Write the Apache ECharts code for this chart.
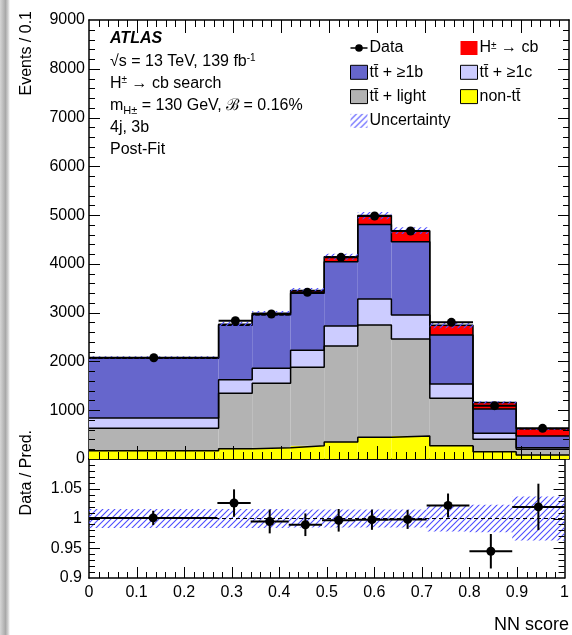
<!DOCTYPE html>
<html>
<head>
<meta charset="utf-8">
<script src="https://cdn.jsdelivr.net/npm/echarts@6/dist/echarts.min.js"></script>
<style>
  html, body { margin: 0; padding: 0; background: #fff; }
  #chart { width: 572px; height: 635px; }
</style>
</head>
<body>
<div id="chart"></div>
<script>
// bin edges in NN score
const edges = [0, 0.27, 0.34, 0.42, 0.49, 0.56, 0.63, 0.71, 0.8, 0.89, 1.0];
// Events / 0.1, per component (stack order bottom -> top)
const nonTT   = [170, 212, 232, 273, 348, 445, 471, 273, 150, 82];
const ttLight = [459, 1135, 1320, 1607, 1968, 2300, 1989, 971, 254, 117];
const ttC     = [211, 279, 307, 348, 410, 535, 492, 293, 123, 33];
const ttB     = [1224, 1114, 1093, 1168, 1319, 1525, 1503, 1005, 498, 239];
const signal  = [10, 25, 35, 57, 101, 186, 226, 200, 132, 149];
const dataEvents = [2075, 2835, 2972, 3417, 4134, 4981, 4674, 2802, 1093, 629];
// ratio panel
const ratioVal = [1.001, 1.026, 0.995, 0.9895, 0.997, 0.998, 0.9985, 1.022, 0.945, 1.0195];
const ratioErr = [0.012, 0.023, 0.02, 0.019, 0.019, 0.017, 0.016, 0.02, 0.029, 0.039];
const systUnc  = [0.016, 0.016, 0.016, 0.015, 0.015, 0.015, 0.015, 0.022, 0.023, 0.037];

const FONT = '"Liberation Sans", Arial, Helvetica, sans-serif';
const nBins = edges.length - 1;

const components = [
  {name: 'non-tt\u0304', values: nonTT, color: '#ffff00'},
  {name: 'tt\u0304 + light', values: ttLight, color: '#b3b3b3'},
  {name: 'tt\u0304 + \u22651c', values: ttC, color: '#ccccff'},
  {name: 'tt\u0304 + \u22651b', values: ttB, color: '#6666cc'},
  {name: 'H\u00b1 \u2192 cb', values: signal, color: '#ff0000'}
];

// hatch pattern for the uncertainty band
function hatchCanvas() {
  const c = document.createElement('canvas');
  c.width = 6; c.height = 6;
  const g = c.getContext('2d');
  g.strokeStyle = '#4d4dff';
  g.lineWidth = 1.1;
  g.beginPath();
  g.moveTo(0, 6); g.lineTo(6, 0);
  g.moveTo(-1, 1); g.lineTo(1, -1);
  g.moveTo(5, 7); g.lineTo(7, 5);
  g.stroke();
  return c;
}
const hatch = {image: hatchCanvas(), repeat: 'repeat'};

function rectItem(api, fill) {
  const p0 = api.coord([api.value(0), api.value(3)]);
  const p1 = api.coord([api.value(1), api.value(2)]);
  return {
    type: 'rect',
    shape: {x: p0[0], y: p0[1], width: p1[0] - p0[0], height: p1[1] - p0[1]},
    style: {fill: fill}
  };
}

function pointItem(api) {
  const c = api.coord([api.value(0), api.value(1)]);
  const l = api.coord([api.value(2), api.value(1)]);
  const r = api.coord([api.value(3), api.value(1)]);
  const lo = api.coord([api.value(0), api.value(4)]);
  const hi = api.coord([api.value(0), api.value(5)]);
  return {
    type: 'group',
    children: [
      {type: 'line', shape: {x1: l[0], y1: c[1], x2: r[0], y2: c[1]}, style: {stroke: '#000', lineWidth: 2}},
      {type: 'line', shape: {x1: c[0], y1: lo[1], x2: c[0], y2: hi[1]}, style: {stroke: '#000', lineWidth: 2}},
      {type: 'circle', shape: {cx: c[0], cy: c[1], r: 4.5}, style: {fill: '#000'}}
    ]
  };
}

const series = [];
const cum = new Array(nBins).fill(0);
const tops = [];
components.forEach(comp => {
  const rows = [];
  for (let i = 0; i < nBins; i++) {
    rows.push([edges[i], edges[i + 1], cum[i], cum[i] + comp.values[i]]);
    cum[i] += comp.values[i];
  }
  tops.push(cum.slice());
  series.push({
    type: 'custom', name: comp.name, xAxisIndex: 0, yAxisIndex: 0,
    itemStyle: {color: comp.color},
    encode: {x: [0, 1], y: [2, 3]},
    data: rows,
    renderItem: (params, api) => rectItem(api, comp.color),
    z: 2
  });
});

// black step outlines on top of each component
tops.forEach(top => {
  const pts = edges.map((e, i) => [e, top[Math.min(i, nBins - 1)]]);
  series.push({
    type: 'line', step: 'end', xAxisIndex: 0, yAxisIndex: 0, data: pts,
    showSymbol: false, silent: true, z: 3,
    lineStyle: {color: '#000', width: 1.5}
  });
});

const total = cum;

// uncertainty band (top + ratio)
series.push({
  type: 'custom', name: 'Uncertainty', xAxisIndex: 0, yAxisIndex: 0,
  itemStyle: {color: hatch},
  encode: {x: [0, 1], y: [2, 3]},
  data: total.map((t, i) => [edges[i], edges[i + 1], t * (1 - systUnc[i]), t * (1 + systUnc[i])]),
  renderItem: (params, api) => rectItem(api, hatch),
  z: 4
});
series.push({
  type: 'custom', name: 'Uncertainty', xAxisIndex: 2, yAxisIndex: 2,
  itemStyle: {color: hatch},
  encode: {x: [0, 1], y: [2, 3]},
  data: systUnc.map((u, i) => [edges[i], edges[i + 1], 1 - u, 1 + u]),
  renderItem: (params, api) => rectItem(api, hatch),
  z: 4
});

// dashed reference line at 1
series.push({
  type: 'line', xAxisIndex: 2, yAxisIndex: 2, data: [[0, 1], [1, 1]],
  showSymbol: false, silent: true, z: 5,
  lineStyle: {color: '#000', width: 1, type: [4, 3]}
});

// data points
series.push({
  type: 'custom', name: 'Data', xAxisIndex: 0, yAxisIndex: 0,
  itemStyle: {color: '#000'},
  encode: {x: 0, y: 1},
  data: dataEvents.map((d, i) => [(edges[i] + edges[i + 1]) / 2, d, edges[i], edges[i + 1], d, d]),
  renderItem: (params, api) => pointItem(api),
  z: 10
});
series.push({
  type: 'custom', name: 'Data', xAxisIndex: 2, yAxisIndex: 2,
  itemStyle: {color: '#000'},
  encode: {x: 0, y: 1},
  data: ratioVal.map((r, i) => [(edges[i] + edges[i + 1]) / 2, r, edges[i], edges[i + 1], r - ratioErr[i], r + ratioErr[i]]),
  renderItem: (params, api) => pointItem(api),
  z: 10
});

const axisLine = {show: true, onZero: false, lineStyle: {color: '#000', width: 1.5}};
const label = {color: '#000', fontFamily: FONT, fontSize: 16, formatter: v => String(v)};

function xAx(grid, pos, showLabel) {
  return {
    type: 'value', gridIndex: grid, position: pos, min: 0, max: 1, interval: 0.1,
    axisLine: axisLine,
    axisTick: {show: false},
    axisLabel: Object.assign({show: showLabel, margin: 7}, label),
    splitLine: {show: false}
  };
}
function yAx(grid, pos, showLabel, min, max, interval, margin) {
  return {
    type: 'value', gridIndex: grid, position: pos, min: min, max: max, interval: interval,
    axisLine: axisLine,
    axisTick: {show: false},
    axisLabel: Object.assign({show: showLabel, margin: margin, showMaxLabel: grid === 0}, label),
    splitLine: {show: false}
  };
}

const legendBase = {
  orient: 'vertical', itemWidth: 17, itemHeight: 14, itemGap: 8.3,
  selectedMode: false,
  textStyle: {color: '#000', fontFamily: FONT, fontSize: 16, lineHeight: 14, padding: [0, 0, 0, -3],
    rich: {sup: {fontSize: 10, verticalAlign: 'top', lineHeight: 14}}},
  formatter: n => n === 'H\u00b1 \u2192 cb' ? 'H{sup|\u00b1} \u2192 cb' : n
};
const boxed = {borderColor: '#000', borderWidth: 1};

const txt = (y, text, extra) => ({
  type: 'text', x: 110, y: y,
  style: Object.assign({
    text: text, fill: '#000', fontFamily: FONT, fontSize: 16, verticalAlign: 'middle', align: 'left',
    rich: {
      sup: {fontSize: 10, verticalAlign: 'top', lineHeight: 18, fontFamily: FONT},
      sub: {fontSize: 11, verticalAlign: 'bottom', lineHeight: 20, fontFamily: FONT}
    }
  }, extra || {})
});

const baseGraphic = [
  {type: 'rect', x: 0, y: 0, shape: {width: 10, height: 635}, silent: true,
    style: {fill: new echarts.graphic.LinearGradient(0, 0, 1, 0, [
      {offset: 0, color: '#d6d6d6'}, {offset: 0.55, color: '#a9a9a9'},
      {offset: 0.8, color: '#d0d0d0'}, {offset: 1, color: '#ffffff'}])}},
  txt(39, 'ATLAS', {fontWeight: 'bold', fontStyle: 'italic'}),
  txt(62, '\u221as = 13 TeV, 139 fb{sup|-1}'),
  txt(84, 'H{sup|\u00b1} \u2192 cb search'),
  txt(106, 'm{sub|H\u00b1} = 130 GeV, \u212c = 0.16%'),
  txt(128, '4j, 3b'),
  txt(150, 'Post-Fit'),
  {type: 'text', x: 27, y: 11, rotation: Math.PI / 2,
    style: {text: 'Events / 0.1', fill: '#000', fontFamily: FONT, fontSize: 16, align: 'right', verticalAlign: 'middle'}},
  {type: 'text', x: 27, y: 430, rotation: Math.PI / 2,
    style: {text: 'Data / Pred.', fill: '#000', fontFamily: FONT, fontSize: 16, align: 'right', verticalAlign: 'middle'}},
  {type: 'text', x: 569, y: 625,
    style: {text: 'NN score', fill: '#000', fontFamily: FONT, fontSize: 18, align: 'right', verticalAlign: 'middle'}}
];

const chart = echarts.init(document.getElementById('chart'));
chart.setOption({
  animation: false,
  grid: [
    {left: 89, top: 20, width: 480, height: 439},
    {left: 89, top: 459, width: 480, height: 119}
  ],
  xAxis: [
    xAx(0, 'bottom', false),
    xAx(0, 'top', false),
    xAx(1, 'bottom', true),
    xAx(1, 'top', false)
  ],
  yAxis: [
    yAx(0, 'left', true, 0, 9000, 1000, 4),
    yAx(0, 'right', false, 0, 9000, 1000, 4),
    yAx(1, 'left', true, 0.9, 1.1, 0.05, 7),
    yAx(1, 'right', false, 0.9, 1.1, 0.05, 7)
  ],
  legend: [
    Object.assign({}, legendBase, {
      left: 345, top: 35,
      data: [
        {name: 'Data', icon: 'path://M0,7.2H20V8.8H0Z M10,3.5A4.5,4.5,0,1,1,9.99,3.5Z'},
        {name: 'tt\u0304 + \u22651b', icon: 'rect', itemStyle: boxed},
        {name: 'tt\u0304 + light', icon: 'rect', itemStyle: boxed},
        {name: 'Uncertainty', icon: 'rect'}
      ]
    }),
    Object.assign({}, legendBase, {
      left: 455, top: 35,
      data: [
        {name: 'H\u00b1 \u2192 cb', icon: 'rect'},
        {name: 'tt\u0304 + \u22651c', icon: 'rect', itemStyle: boxed},
        {name: 'non-tt\u0304', icon: 'rect', itemStyle: boxed}
      ]
    })
  ],
  graphic: baseGraphic,
  series: series
});

// ROOT-style inside ticks, positioned through the axes' own scales
function tickList(min, max, step, perMajor) {
  const out = [];
  const n = Math.round((max - min) / step);
  for (let k = 1; k < n; k++) out.push([+(min + k * step).toFixed(4), k % perMajor === 0]);
  return out;
}
const tickEls = [];
function addTicks(ax, xt, yt, L, topTicks) {
  const px = v => chart.convertToPixel({xAxisIndex: ax}, v);
  const py = v => chart.convertToPixel({yAxisIndex: ax}, v);
  const left = px(0), right = px(1);
  const yOpt = chart.getOption().yAxis[ax];
  const bottom = py(yOpt.min), top = py(yOpt.max);
  const st = {stroke: '#000', lineWidth: 1};
  xt.forEach(([v, major]) => {
    const x = Math.round(px(v)) + 0.5, len = major ? L.xMaj : L.xMin;
    tickEls.push({type: 'line', silent: true, z: 100, shape: {x1: x, y1: bottom, x2: x, y2: bottom - len}, style: st});
    if (topTicks) tickEls.push({type: 'line', silent: true, z: 100, shape: {x1: x, y1: top, x2: x, y2: top + len}, style: st});
  });
  yt.forEach(([v, major]) => {
    const y = Math.round(py(v)) + 0.5, len = major ? L.yMaj : L.yMin;
    tickEls.push({type: 'line', silent: true, z: 100, shape: {x1: left, y1: y, x2: left + len, y2: y}, style: st});
    tickEls.push({type: 'line', silent: true, z: 100, shape: {x1: right, y1: y, x2: right - len, y2: y}, style: st});
  });
}
addTicks(0, tickList(0, 1, 0.02, 5), tickList(0, 9000, 200, 5), {xMaj: 13, xMin: 7, yMaj: 11, yMin: 6}, true);
addTicks(2, tickList(0, 1, 0.02, 5), tickList(0.9, 1.1, 0.01, 5), {xMaj: 11, xMin: 6, yMaj: 11, yMin: 6}, false);
chart.setOption({graphic: baseGraphic.concat(tickEls)});
</script>
</body>
</html>
